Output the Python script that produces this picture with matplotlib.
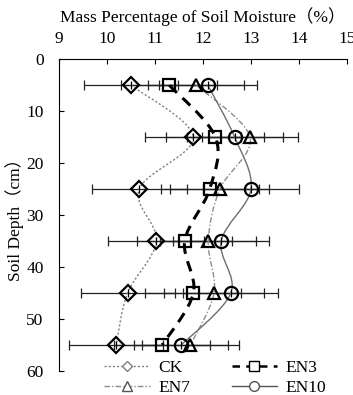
import numpy as np
import matplotlib
matplotlib.use('Agg')
import matplotlib.pyplot as plt
from matplotlib.path import Path
from matplotlib.patches import PathPatch
from matplotlib.lines import Line2D

plt.rcParams['font.family'] = ['Liberation Serif', 'Noto Sans CJK SC']
plt.rcParams['font.size'] = 12.5

## Data ##
depth = [5, 15, 25, 35, 45, 55]
ck = [10.50, 11.80, 10.67, 11.03, 10.43, 10.19]
en3 = [11.30, 12.26, 12.14, 11.62, 11.80, 11.15]
en7 = [11.86, 12.98, 12.35, 12.11, 12.23, 11.74]
en10 = [12.10, 12.66, 13.00, 12.38, 12.58, 11.55]
ck_err = [0.98, 1.00, 0.99, 1.00, 0.98, 0.98]
en3_err = [1.00, 1.02, 1.02, 0.99, 1.00, 1.00]
en7_err = [1.00, 1.00, 1.03, 1.00, 1.04, 1.01]
en10_err = [1.02, 1.00, 0.99, 1.00, 0.99, 0.98]

labels = ['CK', 'EN3', 'EN7', 'EN10']


def smooth_path(x, y):
    # Excel-like smoothed line as cubic bezier segments
    pts = np.column_stack([x, y])
    n = len(pts)
    verts = [pts[0]]
    codes = [Path.MOVETO]
    for i in range(n - 1):
        p0 = pts[i - 1] if i > 0 else pts[i]
        p1 = pts[i]
        p2 = pts[i + 1]
        p3 = pts[i + 2] if i + 2 < n else pts[i + 1]
        c1 = p1 + (p2 - p0) / 6.0
        c2 = p2 - (p3 - p1) / 6.0
        verts += [c1, c2, p2]
        codes += [Path.CURVE4] * 3
    return Path(verts, codes)


fig = plt.figure(figsize=(3.53, 3.95), dpi=100)
ax = fig.add_axes([0.167, 0.061, 0.816, 0.789])

series = [
    (ck, ck_err, 'D', 8, dict(color='#7f7f7f', lw=1.0, ls=(0, (1.5, 1.5)))),
    (en3, en3_err, 's', 8.5, dict(color='black', lw=2.2, ls=(0, (3.5, 2.5)))),
    (en7, en7_err, '^', 8, dict(color='#8c8c8c', lw=1.0, ls=(0, (4, 1.5, 1, 1.5)))),
    (en10, en10_err, 'o', 9.5, dict(color='#6e6e6e', lw=1.0, ls='-')),
]

# error bars first
for vals, err, m, ms, st in series:
    ax.errorbar(vals, depth, xerr=err, fmt='none', ecolor='#222222',
                elinewidth=0.9, capsize=3.5, capthick=0.9, zorder=2)

# smoothed curves
for vals, err, m, ms, st in series:
    patch = PathPatch(smooth_path(vals, depth), facecolor='none',
                      edgecolor=st['color'], linewidth=st['lw'],
                      linestyle=st['ls'], zorder=3)
    ax.add_patch(patch)

# markers
for vals, err, m, ms, st in series:
    ax.plot(vals, depth, ls='none', marker=m, markersize=ms,
            markerfacecolor='none', markeredgecolor='black',
            markeredgewidth=1.6, zorder=4)
for vals in (ck, en10):
    ax.plot(vals, depth, ls='none', marker='|', markersize=6,
            color='black', markeredgewidth=0.9, zorder=4)

ax.set_xlim(9, 15)
ax.set_ylim(60, 0)
ax.set_xticks(range(9, 16))
ax.set_yticks(range(0, 61, 10))
ax.xaxis.tick_top()
ax.xaxis.set_label_position('top')
ax.tick_params(direction='in', length=3.5, width=0.8, labelsize=12.5,
               top=True, bottom=False, right=False)
ax.tick_params(axis='x', pad=9)
ax.tick_params(axis='y', pad=11)
for side in ['right', 'bottom']:
    ax.spines[side].set_visible(False)
for side in ['left', 'top']:
    ax.spines[side].set_linewidth(0.8)
ax.set_xlabel('Mass Percentage of Soil Moisture（%）', fontsize=12.5, labelpad=6)
ax.set_ylabel('Soil Depth（cm）', fontsize=12.5, labelpad=2)

handles = {
    'CK': Line2D([], [], color='#7f7f7f', lw=1.0, ls=(0, (1.5, 1.5)), marker='D',
                 markersize=5.5, markerfacecolor='white', markeredgecolor='#7f7f7f'),
    'EN3': Line2D([], [], color='black', lw=1.8, ls=(0, (3, 2.5)), marker='s',
                  markersize=7, markerfacecolor='white', markeredgecolor='black'),
    'EN7': Line2D([], [], color='#8c8c8c', lw=1.0, ls=(0, (4, 1.5, 1, 1.5)), marker='^',
                  markersize=7, markerfacecolor='white', markeredgecolor='#555555'),
    'EN10': Line2D([], [], color='#555555', lw=1.0, ls='-', marker='o',
                   markersize=7, markerfacecolor='white', markeredgecolor='#555555'),
}
order = ['CK', 'EN7', 'EN3', 'EN10']
leg = fig.legend([handles[k] for k in order], order, ncol=2, loc='center',
                 bbox_to_anchor=(0.61, 0.043), frameon=True,
                 facecolor='white', edgecolor='white', framealpha=1,
                 handlelength=2.6, columnspacing=2.4, handletextpad=0.5,
                 labelspacing=0.25, borderpad=0.2, fontsize=12.5)
leg.get_frame().set_linewidth(0)

fig.savefig('out.png', dpi=100)
